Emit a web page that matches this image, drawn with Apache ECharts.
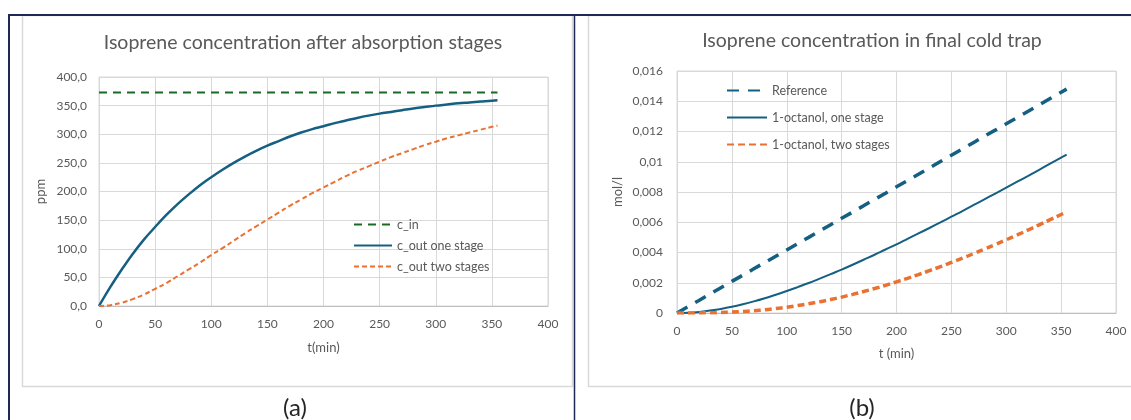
<!DOCTYPE html>
<html><head><meta charset="utf-8">
<script src="https://cdn.jsdelivr.net/npm/echarts@6/dist/echarts.min.js"></script>
<style>html,body{margin:0;padding:0;background:#fff}#c{width:1131px;height:420px}</style>
</head><body><div id="c"></div>
<script>
// ---- data ----
var tA = [0,10,20,30,40,50,60,70,80,90,100,110,120,130,140,150,160,170,180,190,200,210,220,230,240,250,260,270,280,290,300,310,320,330,340,350,355];
var cIn = [373,373,373,373,373,373,373,373,373,373,373,373,373,373,373,373,373,373,373,373,373,373,373,373,373,373,373,373,373,373,373,373,373,373,373,373,373];
var cOutOne = [0,33,63,91,116,138,159,178,195,211,225,238,250,261,271,280,288,296,303,309,314,319.5,324,328.5,332.5,336,339,342,345,347.5,350,352,354,355.5,357,358.5,359.5];
var cOutTwo = [0,1.5,5.6,12,20,30,40,52,64,76,89,101,114,127,139,151,163,175,186,197,207,217,227,236,244,252,260,267,274,281,287,293,298,303,308,313,315];

var tB = [0,10,20,30,40,50,60,70,80,90,100,110,120,130,140,150,160,170,180,190,200,210,220,230,240,250,260,270,280,290,300,310,320,330,340,350,355];
var refB = [0,0.00042,0.00083,0.00125,0.00167,0.00209,0.0025,0.00292,0.00334,0.00375,0.00417,0.00459,0.005,0.00542,0.00584,0.00626,0.00667,0.00709,0.00751,0.00792,0.00834,0.00876,0.00917,0.00959,0.01001,0.01043,0.01084,0.01126,0.01168,0.01209,0.01251,0.01293,0.01334,0.01376,0.01418,0.0146,0.0148];
var oneB = [0,0.00002,0.00007,0.00016,0.00027,0.00041,0.00058,0.00077,0.00098,0.00121,0.00145,0.00171,0.00198,0.00227,0.00257,0.00287,0.00319,0.00352,0.00385,0.0042,0.00454,0.0049,0.00526,0.00562,0.00599,0.00637,0.00674,0.00713,0.00751,0.0079,0.00829,0.00868,0.00907,0.00947,0.00987,0.01027,0.01047];
var twoB = [0,0,0.000005,0.000014,0.000032,0.000059,0.0001,0.00015,0.00021,0.00029,0.00038,0.00049,0.00061,0.00074,0.00089,0.00105,0.00123,0.00142,0.00162,0.00183,0.00206,0.00229,0.00254,0.0028,0.00306,0.00334,0.00362,0.00392,0.00422,0.00453,0.00484,0.00516,0.00549,0.00583,0.00617,0.00651,0.00669];

var titleA = 'Isoprene concentration after absorption stages';
var titleB = 'Isoprene concentration in final cold trap';
var namesA = ['c_in','c_out one stage','c_out two stages'];
var namesB = ['Reference','1-octanol, one stage','1-octanol, two stages'];

function pairs(x, y){ return x.map(function(v,i){ return [v, y[i]]; }); }

var FONT = 'Lato';
var GRAY = '#595959';
var GRID = '#d9d9d9';
var BLUE = '#156082', ORANGE = '#E97132', GREEN = '#196B24', NAVY = '#1f2857';

var chart = echarts.init(document.getElementById('c'));
function xAx(gi, name, nameGap){
  return {gridIndex: gi, type:'value', min:0, max:400, interval:50,
    name:name, nameLocation:'middle', nameGap:nameGap,
    nameTextStyle:{color:GRAY, fontSize:13, fontFamily:FONT},
    axisLine:{show:true, lineStyle:{color:'#bfbfbf', width:1}}, axisTick:{show:false},
    axisLabel:{color:GRAY, fontSize:12, fontFamily:FONT, margin:12},
    splitLine:{show:true, lineStyle:{color:GRID, width:1}}};
}
chart.setOption({
  animation:false,
  backgroundColor:'#ffffff',
  title:[
    {text:titleA, left:298, top:28, textAlign:'center', textStyle:{color:GRAY, fontSize:19.5, fontWeight:'normal', fontFamily:FONT}},
    {text:titleB, left:867, top:26, textAlign:'center', textStyle:{color:GRAY, fontSize:19.5, fontWeight:'normal', fontFamily:FONT}},
    {text:'(a)', left:290, top:391, textAlign:'center', textStyle:{color:'#262626', fontSize:24, fontWeight:'normal', fontFamily:FONT}},
    {text:'(b)', left:857, top:391, textAlign:'center', textStyle:{color:'#262626', fontSize:24, fontWeight:'normal', fontFamily:FONT}}
  ],
  grid:[
    {left:99, top:77, width:449, height:229, show:true, borderColor:GRID, borderWidth:1},
    {left:677, top:71, width:439, height:242, show:true, borderColor:GRID, borderWidth:1}
  ],
  legend:[
    {data:namesA, orient:'vertical', left:348, top:213, itemWidth:38, itemHeight:12, itemGap:8, itemStyle:{opacity:0},
     textStyle:{color:GRAY, fontSize:12.5, fontFamily:FONT}},
    {data:namesB, orient:'vertical', left:721, top:79, itemWidth:40, itemHeight:12, itemGap:14, itemStyle:{opacity:0},
     textStyle:{color:GRAY, fontSize:12.5, fontFamily:FONT}}
  ],
  xAxis:[ xAx(0,'t(min)',35), xAx(1,'t (min)',34) ],
  yAxis:[
    {gridIndex:0, type:'value', min:0, max:400, interval:50, name:'ppm', nameLocation:'middle', nameGap:52,
     nameTextStyle:{color:GRAY, fontSize:13, fontFamily:FONT},
     axisLine:{show:false}, axisTick:{show:false},
     axisLabel:{color:GRAY, fontSize:12, fontFamily:FONT, margin:12, formatter:function(v){return v.toFixed(1).replace('.',',');}},
     splitLine:{show:true, lineStyle:{color:GRID, width:1}}},
    {gridIndex:1, type:'value', min:0, max:0.016, interval:0.002, name:'mol/l', nameLocation:'middle', nameGap:53,
     nameTextStyle:{color:GRAY, fontSize:13, fontFamily:FONT},
     axisLine:{show:false}, axisTick:{show:false},
     axisLabel:{color:GRAY, fontSize:12, fontFamily:FONT, margin:14, formatter:function(v){return String(parseFloat(v.toFixed(3))).replace('.',',');}},
     splitLine:{show:true, lineStyle:{color:GRID, width:1}}}
  ],
  series:[
    {name:namesA[0], type:'line', xAxisIndex:0, yAxisIndex:0, data:pairs(tA,cIn), symbol:'none', color:GREEN,
     lineStyle:{color:GREEN, width:2, type:[8,6]}},
    {name:namesA[1], type:'line', xAxisIndex:0, yAxisIndex:0, data:pairs(tA,cOutOne), symbol:'none', smooth:0.4, color:BLUE,
     lineStyle:{color:BLUE, width:2.5}},
    {name:namesA[2], type:'line', xAxisIndex:0, yAxisIndex:0, data:pairs(tA,cOutTwo), symbol:'none', smooth:0.4, color:ORANGE,
     lineStyle:{color:ORANGE, width:2, type:[5,3]}},
    {name:namesB[0], type:'line', xAxisIndex:1, yAxisIndex:1, data:pairs(tB,refB), symbol:'none', color:BLUE,
     lineStyle:{color:BLUE, width:3.5, type:[12,9]}},
    {name:namesB[1], type:'line', xAxisIndex:1, yAxisIndex:1, data:pairs(tB,oneB), symbol:'none', smooth:0.4, color:BLUE,
     lineStyle:{color:BLUE, width:2}},
    {name:namesB[2], type:'line', xAxisIndex:1, yAxisIndex:1, data:pairs(tB,twoB), symbol:'none', smooth:0.4, color:ORANGE,
     lineStyle:{color:ORANGE, width:3.5, type:[7,4]}}
  ],
  graphic:[
    {type:'rect', z:-1, shape:{x:22.5, y:15.5, width:550, height:371}, style:{fill:'none', stroke:'#d9d9d9', lineWidth:1.5}},
    {type:'rect', z:-1, shape:{x:588.5, y:15.5, width:560, height:371}, style:{fill:'none', stroke:'#d9d9d9', lineWidth:1.5}},
    {type:'line', shape:{x1:8, y1:15, x2:1131, y2:15}, style:{stroke:NAVY, lineWidth:2}},
    {type:'line', shape:{x1:9, y1:14, x2:9, y2:420}, style:{stroke:NAVY, lineWidth:2}},
    {type:'line', shape:{x1:574.5, y1:14, x2:574.5, y2:420}, style:{stroke:NAVY, lineWidth:1.5}}
  ]
});
</script></body></html>
